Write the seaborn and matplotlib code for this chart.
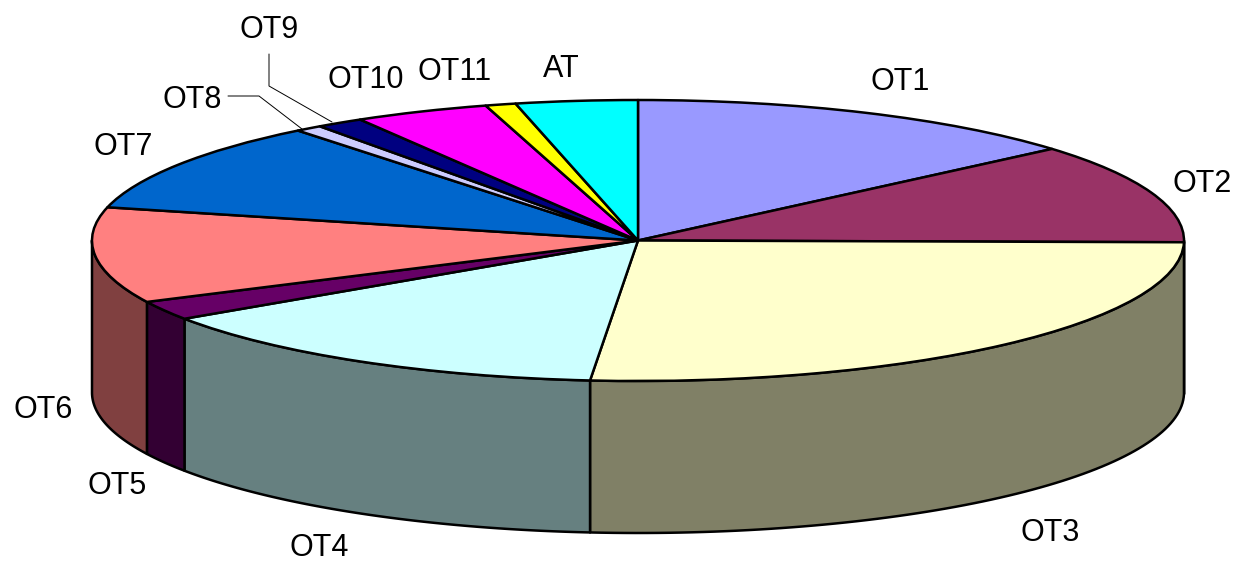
import numpy as np
import seaborn as sns
import matplotlib.pyplot as plt

# slices, clockwise from the top (percent)
labels = ['OT1', 'OT2', 'OT3', 'OT4', 'OT5', 'OT6', 'OT7', 'OT8', 'OT9', 'OT10', 'OT11', 'AT']
shares = [13.7, 11.5, 26.2, 14.2, 2.2, 11.0, 10.5, 0.8, 1.4, 4.0, 0.9, 3.6]
hex_colors = ['#9999FF', '#993366', '#FFFFCC', '#CCFFFF', '#660066', '#FF8080',
              '#0066CC', '#CCCCFF', '#000080', '#FF00FF', '#FFFF00', '#00FFFF']

# label centres in pixels
label_px = [(900, 82), (1202, 184), (1050, 533), (319, 548), (117, 486), (43, 410),
            (123, 147), (192, 100), (269, 30), (366, 80), (455, 72), (561, 69)]

sns.set_theme(style='white')
plt.rcParams['font.family'] = ['Liberation Sans', 'DejaVu Sans']
palette = sns.color_palette(hex_colors)

# ellipse of the pie top in the picture
cx, cy, rx, ry = 638, 240.5, 546, 140.5
depth = 152 / ry


def px(x, y):
    return (x - cx) / rx, (cy - y) / ry


fig = plt.figure(figsize=(12.34, 5.61), dpi=100)
ax = fig.add_axes([0, 0, 1, 1])

# top face
ax.pie(shares, colors=palette, startangle=90, counterclock=False, radius=1,
       wedgeprops={'edgecolor': 'black', 'linewidth': 1.8, 'joinstyle': 'round', 'zorder': 3})

# side walls, only the front half shows
edges = np.cumsum([0] + shares) / sum(shares) * 360
for i, col in enumerate(palette):
    a = max(edges[i], 90)
    b = min(edges[i + 1], 270)
    if b <= a:
        continue
    t = np.radians(np.linspace(a, b, 80))
    xs = np.sin(t)
    ys = np.cos(t)
    dark = tuple(c * 0.5 for c in col)
    ax.fill(np.r_[xs, xs[::-1]], np.r_[ys, ys[::-1] - depth], facecolor=dark,
            edgecolor='black', linewidth=1.8, joinstyle='round', zorder=2)

# leader lines of the two small slices
for pts in ([(228, 96), (259, 96), (302, 129)], [(269, 54), (269, 86), (332, 122)]):
    lx, ly = zip(*[px(*p) for p in pts])
    ax.plot(lx, ly, color='black', linewidth=0.7, zorder=1)

for name, pos in zip(labels, label_px):
    tx, ty = px(*pos)
    ax.text(tx, ty, name, fontsize=22, color='black', ha='center', va='center')

ax.set_xlim(*[px(v, 0)[0] for v in (0, 1234)])
ax.set_ylim(px(0, 561)[1], px(0, 0)[1])
ax.set_aspect('auto')
ax.axis('off')

fig.savefig('out.png', dpi=100)
